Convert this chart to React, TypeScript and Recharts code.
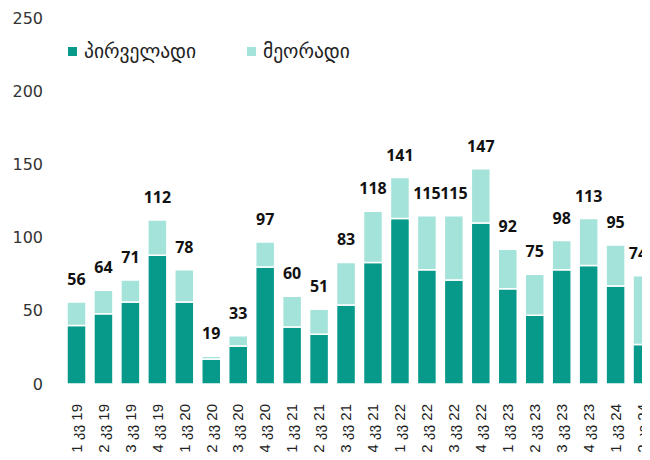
import { BarChart, Bar, XAxis, YAxis, LabelList } from "recharts"

const quarters = [
  "1 კვ 19", "2 კვ 19", "3 კვ 19", "4 კვ 19",
  "1 კვ 20", "2 კვ 20", "3 კვ 20", "4 კვ 20",
  "1 კვ 21", "2 კვ 21", "3 კვ 21", "4 კვ 21",
  "1 კვ 22", "2 კვ 22", "3 კვ 22", "4 კვ 22",
  "1 კვ 23", "2 კვ 23", "3 კვ 23", "4 კვ 23",
  "1 კვ 24", "2 კვ 24",
]
const primary = [40, 48, 56, 88, 56, 17, 26, 80, 39, 34, 54, 83, 113, 78, 71, 110, 65, 47, 78, 81, 67, 27]
const secondary = [16, 16, 15, 24, 22, 2, 7, 17, 21, 17, 29, 35, 28, 37, 44, 37, 27, 28, 20, 32, 28, 47]
const totals = [56, 64, 71, 112, 78, 19, 33, 97, 60, 51, 83, 118, 141, 115, 115, 147, 92, 75, 98, 113, 95, 74]
const yTicks = [0, 50, 100, 150, 200, 250]

const DARK = "#079a8b"
const LIGHT = "#a4e3da"

const data = quarters.map((q, i) => ({
  q,
  primary: primary[i],
  secondary: secondary[i],
  total: totals[i],
}))

function QuarterTick(props: any) {
  const { x, y, payload } = props
  return (
    <text
      x={x}
      y={y + 12}
      transform={`rotate(-90, ${x}, ${y + 12})`}
      textAnchor="end"
      dy="0.35em"
      fontSize={15}
      fontFamily="'Liberation Sans', 'DejaVu Sans', sans-serif"
      fill="#222"
    >
      {payload.value}
    </text>
  )
}

// keep the last total inside the visible area
function TotalLabel(props: any) {
  const { x, y, width, value } = props
  const cx = Math.min(x + width / 2, 630)
  return (
    <text
      x={cx}
      y={y - 17}
      textAnchor="middle"
      fill="#111"
      fontSize={16}
      fontWeight={700}
      fontFamily="'Noto Sans', sans-serif"
    >
      {value}
    </text>
  )
}

export default function App() {
  return (
    <div style={{ position: "relative", width: 642, height: 444, overflow: "hidden" }}>
      <BarChart
        width={648}
        height={452}
        data={data}
        margin={{ top: 10, right: 0, left: 0, bottom: 0 }}
      >
        <XAxis dataKey="q" height={76} axisLine={false} tickLine={false} interval={0} tick={<QuarterTick />} />
        <YAxis
          width={55}
          domain={[0, 250]}
          ticks={yTicks}
          axisLine={false}
          tickLine={false}
          tickMargin={14}
          tick={{ fontSize: 16, fill: "#333", fontFamily: "'DejaVu Sans', sans-serif" }}
        />
        <Bar dataKey="primary" stackId="a" fill={DARK} stroke="#fff" strokeWidth={1.5} barSize={19} isAnimationActive={false} />
        <Bar dataKey="secondary" stackId="a" fill={LIGHT} stroke="#fff" strokeWidth={1.5} barSize={19} isAnimationActive={false}>
          <LabelList dataKey="total" content={<TotalLabel />} />
        </Bar>
      </BarChart>
      <div
        style={{
          position: "absolute",
          top: 32,
          left: 60,
          display: "flex",
          alignItems: "center",
          fontFamily: "'DejaVu Sans', sans-serif",
          fontSize: 19.5,
          color: "#222",
        }}
      >
        <span style={{ width: 9, height: 9, background: DARK, marginRight: 7 }} />
        <span style={{ width: 163 }}>პირველადი</span>
        <span style={{ width: 9, height: 9, background: LIGHT, marginRight: 7 }} />
        <span>მეორადი</span>
      </div>
    </div>
  )
}
